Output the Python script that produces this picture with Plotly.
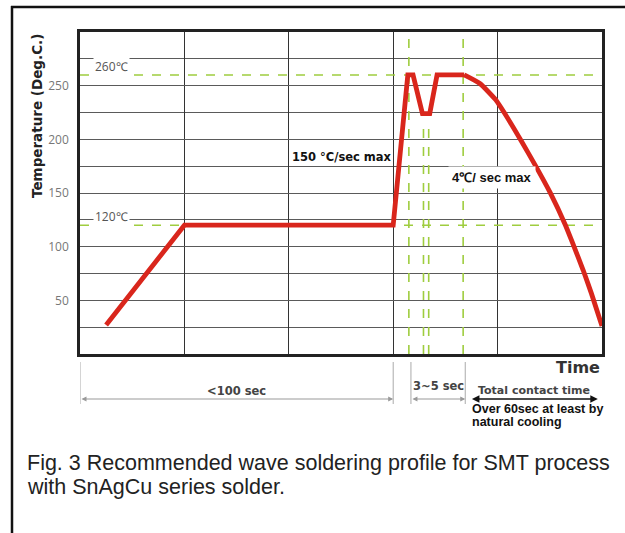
import plotly.graph_objects as go

# ---- data ----
profile_time = [0.25, 1.0, 3.0, 3.14, 3.19, 3.28, 3.35, 3.42, 3.68, 3.83, 3.98,
                4.12, 4.23, 4.36, 4.50, 4.65, 4.72, 4.82, 4.90, 5.0]
profile_temp = [27, 120, 120, 260, 260, 224, 224, 260, 260, 252, 237,
                216, 198, 176, 151, 120, 103, 78, 56, 26]
cooling_start = 8                   # index where the smooth cooling curve begins

ref_temps = [120, 260]              # horizontal dashed guide temperatures
ref_temp_labels = ["120℃", "260℃"]
full_guides = [3.15, 3.67]          # full-height dashed guide times
dip_guides = [3.29, 3.34]           # dashed guides under the dip
dip_guide_top = 217

y_ticks = [50, 100, 150, 200, 250]
x_range = [0, 5]
y_range = [0, 300]

span_bounds = [0.0, 3.0, 3.17, 3.69]
span_labels = ["<100 sec", "3~5 sec"]
contact_span = [3.74, 4.96]

GREEN = "#9fcd3f"
RED = "#d9261c"


def px_x(p):   # reference pixel -> paper x
    return (p - 80) / 522


def px_y(p):   # reference pixel -> paper y
    return (354 - p) / 322


fig = go.Figure()

for t in ref_temps:
    fig.add_trace(go.Scatter(x=x_range, y=[t, t], mode="lines",
                             line=dict(color=GREEN, width=1.6, dash="dash"),
                             hoverinfo="skip", showlegend=False))
for g in full_guides:
    fig.add_trace(go.Scatter(x=[g, g], y=y_range, mode="lines",
                             line=dict(color=GREEN, width=1.6, dash="dash"),
                             hoverinfo="skip", showlegend=False))
for g in dip_guides:
    fig.add_trace(go.Scatter(x=[g, g], y=[0, dip_guide_top], mode="lines",
                             line=dict(color=GREEN, width=1.6, dash="dash"),
                             hoverinfo="skip", showlegend=False))

fig.add_trace(go.Scatter(x=profile_time[:cooling_start + 1], y=profile_temp[:cooling_start + 1],
                         mode="lines", line=dict(color=RED, width=4.8),
                         showlegend=False))
fig.add_trace(go.Scatter(x=profile_time[cooling_start:], y=profile_temp[cooling_start:],
                         mode="lines", line=dict(color=RED, width=4.8, shape="spline", smoothing=0.5),
                         showlegend=False))

ann = []
for t, lab in zip(ref_temps, ref_temp_labels):
    ann.append(dict(x=0.30, y=t + 8, xref="x", yref="y", text=lab, showarrow=False,
                    font=dict(family="Open Sans", size=12, color="#555"),
                    bgcolor="white", borderpad=1))

ann.append(dict(x=2.51, y=184, xref="x", yref="y", text="<b>150 °C/sec max</b>",
                showarrow=False, font=dict(family="DejaVu Sans", size=11.5, color="#111")))
ann.append(dict(x=3.95, y=164, xref="x", yref="y", text="<b>4℃/ sec max</b>",
                showarrow=False, bgcolor="white", borderpad=3,
                font=dict(family="Liberation Sans", size=13, color="#111")))

# y-axis title
ann.append(dict(x=px_x(37), y=px_y(116), xref="paper", yref="paper",
                xanchor="center", yanchor="middle",
                text="<b>Temperature (Deg.C.)</b>", textangle=-90, showarrow=False,
                font=dict(family="DejaVu Sans", size=13.5, color="#222")))

# below-axis annotations
ann.append(dict(x=1.0, y=px_y(367), xref="paper", yref="paper", text="<b>Time</b>",
                xanchor="right", yanchor="middle", showarrow=False,
                font=dict(family="DejaVu Sans", size=16, color="#333")))
label_y = [px_y(391), px_y(386)]
for i, lab in enumerate(span_labels):
    xm = (span_bounds[2 * i] + span_bounds[2 * i + 1]) / 2
    ann.append(dict(x=xm, y=label_y[i], xref="x", yref="paper", text="<b>" + lab + "</b>",
                    xanchor="center", yanchor="middle",
                    showarrow=False, font=dict(family="DejaVu Sans", size=11.5, color="#444")))
ann.append(dict(x=sum(contact_span) / 2, y=px_y(390), xref="x", yref="paper",
                text="<b>Total contact time</b>", xanchor="center", yanchor="middle",
                showarrow=False, font=dict(family="DejaVu Sans", size=11, color="#444")))
ann.append(dict(x=px_x(470), y=px_y(409), xref="paper", yref="paper",
                text="<b>Over 60sec at least by</b>", xanchor="left", yanchor="middle",
                showarrow=False, font=dict(family="Liberation Sans", size=12.5, color="#111")))
ann.append(dict(x=px_x(470), y=px_y(422), xref="paper", yref="paper",
                text="<b>natural cooling</b>", xanchor="left", yanchor="middle",
                showarrow=False, font=dict(family="Liberation Sans", size=12.5, color="#111")))

# dimension arrows
arrow_y = px_y(399)
for a, b, col, w in [(span_bounds[0], span_bounds[1], "#999", 1),
                     (span_bounds[2], span_bounds[3], "#999", 1),
                     (contact_span[0], contact_span[1], "#111", 1.5)]:
    ann.append(dict(x=b, y=arrow_y, xref="x", yref="paper", ax=a, ay=0,
                    axref="x", ayref="pixel", text="", showarrow=True,
                    arrowhead=2, arrowside="end+start", arrowsize=1, arrowwidth=w,
                    arrowcolor=col))

# caption
ann.append(dict(x=px_x(25), y=px_y(463), xref="paper", yref="paper",
                text="Fig. 3 Recommended wave soldering profile for SMT process",
                xanchor="left", yanchor="middle", showarrow=False,
                font=dict(family="Liberation Sans", size=21.5, color="#222")))
ann.append(dict(x=px_x(25), y=px_y(487), xref="paper", yref="paper",
                text="with SnAgCu series solder.", xanchor="left", yanchor="middle",
                showarrow=False,
                font=dict(family="Liberation Sans", size=21.5, color="#222")))

shapes = []
for b in span_bounds:
    shapes.append(dict(type="line", xref="x", yref="paper", x0=b, x1=b,
                       y0=px_y(362), y1=px_y(404), line=dict(color="#aaa", width=1)))
# outer figure frame (left and top)
shapes.append(dict(type="line", xref="paper", yref="paper", x0=px_x(12), x1=px_x(12),
                   y0=px_y(6), y1=px_y(540), line=dict(color="#111", width=2.5)))
shapes.append(dict(type="line", xref="paper", yref="paper", x0=px_x(11), x1=px_x(630),
                   y0=px_y(7), y1=px_y(7), line=dict(color="#111", width=2.5)))

fig.update_layout(
    width=625, height=533,
    margin=dict(l=80, r=23, t=32, b=179),
    paper_bgcolor="white", plot_bgcolor="white",
    annotations=ann, shapes=shapes,
    xaxis=dict(range=x_range, dtick=1, tick0=0, showticklabels=False, ticks="",
               showgrid=True, gridcolor="#333", gridwidth=1, zeroline=False,
               showline=True, linecolor="#222", linewidth=2.5, mirror=True),
    yaxis=dict(range=y_range, tickmode="array", tickvals=y_ticks, ticks="",
               showgrid=True, gridcolor="#5a5a5a", gridwidth=1.2, zeroline=False,
               minor=dict(dtick=25, tick0=0, showgrid=True, gridcolor="#5a5a5a", gridwidth=1.2),
               showline=True, linecolor="#222", linewidth=2.5, mirror=True,
               ticklabelstandoff=6,
               tickfont=dict(family="Open Sans", size=12, color="#777")),
)

fig.write_html("out.html", config={"displayModeBar": False},
               post_script="document.body.style.margin='0px';")
